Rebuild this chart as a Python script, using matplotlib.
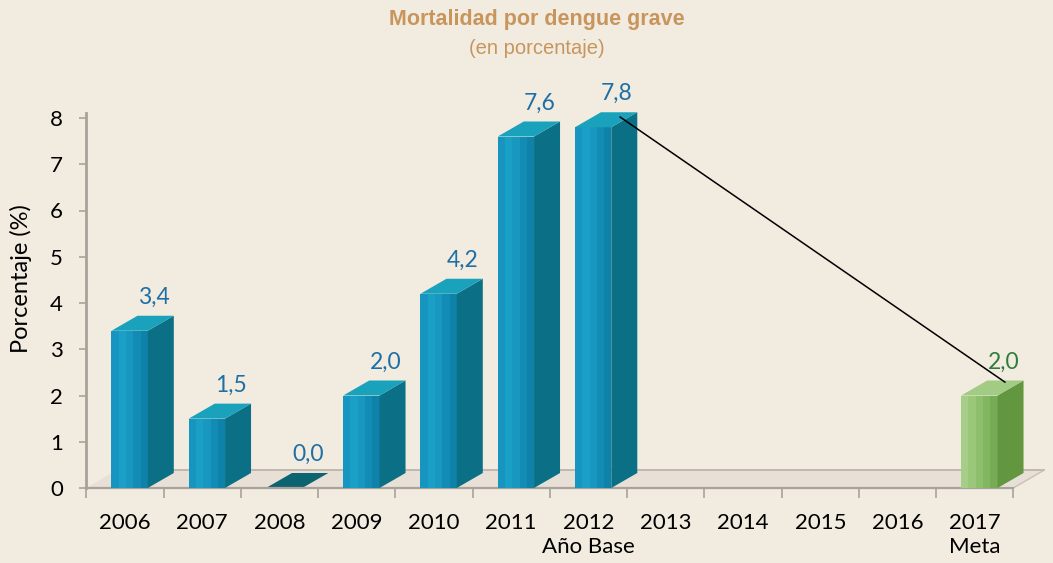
import matplotlib
matplotlib.use("Agg")
import matplotlib.pyplot as plt
from matplotlib.patches import Polygon
import numpy as np

# ---- data ----
years = ["2006", "2007", "2008", "2009", "2010", "2011", "2012",
         "2013", "2014", "2015", "2016", "2017"]
tick_labels = ["2006", "2007", "2008", "2009", "2010", "2011", "2012\nAño Base",
               "2013", "2014", "2015", "2016", "2017\nMeta"]
values = [3.4, 1.5, 0.0, 2.0, 4.2, 7.6, 7.8, None, None, None, None, 2.0]
value_labels = ["3,4", "1,5", "0,0", "2,0", "4,2", "7,6", "7,8", "", "", "", "", "2,0"]
is_goal = [False] * 11 + [True]
yticks = [0, 1, 2, 3, 4, 5, 6, 7, 8]

title = "Mortalidad por dengue grave"
subtitle = "(en porcentaje)"
ylabel = "Porcentaje (%)"

BG = "#F2EBE0"
TITLE_C = "#C8955C"
BLUE_T = "#1D6FA5"
GREEN_T = "#2E7D3A"

W, H = 1053, 563
fig = plt.figure(figsize=(W / 100, H / 100), dpi=100, facecolor=BG)

# axes geometry in pixels
px_per_x = 77.25
px_per_y = 46.25
x_left_px = 125 - 0.5 * px_per_x
xlim = (-0.5, 11.95)
ylim = (0, 8.4)
ax_w = (xlim[1] - xlim[0]) * px_per_x
ax_h = (ylim[1] - ylim[0]) * px_per_y
y0_px = 488
ax = fig.add_axes([x_left_px / W, (H - y0_px) / H, ax_w / W, ax_h / H])
ax.set_facecolor("none")
ax.set_xlim(*xlim)
ax.set_ylim(*ylim)

# 3D offsets
dx = 26 / px_per_x
dy = 15 / px_per_y
fdx = 31 / px_per_x
fdy = 18 / px_per_y
half = 0.235
shift = 0.06

# floor
floor = Polygon([(-0.5, 0), (11.5, 0), (11.5 + fdx, fdy), (-0.5 + fdx, fdy)],
                closed=True, facecolor="#E8E0D6", edgecolor="none", zorder=1)
ax.add_patch(floor)
ax.plot([-0.5 + fdx, 11.5 + fdx], [fdy, fdy], color="#B9B1A8", lw=1.2, zorder=1.5)
ax.plot([11.5, 11.5 + fdx], [0, fdy], color="#C8C0B7", lw=1.0, zorder=1.5)

def draw_bar(i, v, goal):
    xc = i + shift
    x0, x1 = xc - half, xc + half
    if goal:
        cols_front = ["#A6CE88", "#9AC77A", "#8EBF6C", "#82B660", "#77AC57"]
        side_c = "#62973F"
        top_c = "#A2CB84"
    else:
        cols_front = ["#1695C0", "#1A9FC6", "#1898C0", "#128CB4", "#0E82A8"]
        side_c = "#0B6F86"
        top_c = "#1AA2BC"
    if v == 0:
        ax.add_patch(Polygon([(x0, 0), (x1, 0), (x1 + dx, dy), (x0 + dx, dy)],
                             closed=True, facecolor="#0B6470", edgecolor="none", zorder=2))
        return
    n = len(cols_front)
    edges = np.linspace(x0, x1, n + 1)
    for k in range(n):
        ax.add_patch(Polygon([(edges[k], 0), (edges[k + 1] + 0.002, 0),
                              (edges[k + 1] + 0.002, v), (edges[k], v)],
                             closed=True, facecolor=cols_front[k], edgecolor="none", zorder=3))
    ax.add_patch(Polygon([(x1, 0), (x1 + dx, dy), (x1 + dx, v + dy), (x1, v)],
                         closed=True, facecolor=side_c, edgecolor="none", zorder=3))
    ax.add_patch(Polygon([(x0, v), (x1, v), (x1 + dx, v + dy), (x0 + dx, v + dy)],
                         closed=True, facecolor=top_c, edgecolor="none", zorder=3))

for i, v in enumerate(values):
    if v is None:
        continue
    draw_bar(i, v, is_goal[i])
    ax.text(i + 0.37, v + dy + 0.40, value_labels[i], ha="center", va="center",
            fontsize=16.5, family="Lato", color=GREEN_T if is_goal[i] else BLUE_T, zorder=5)

# trend line from 2012 base to 2017 goal
i_base, i_goal = 6, 11
ax.plot([i_base + 0.41, i_goal + 0.39], [values[i_base] + 0.22, values[i_goal] + 0.29],
        color="black", lw=1.1, zorder=6)

# spines & ticks
for s in ["top", "right"]:
    ax.spines[s].set_visible(False)
ax.spines["left"].set_color("#A8A29C")
ax.spines["left"].set_linewidth(2.0)
ax.spines["left"].set_bounds(0, 8.1)
ax.spines["bottom"].set_color("#A8A29C")
ax.spines["bottom"].set_linewidth(1.6)
ax.spines["bottom"].set_bounds(-0.5, 11.5)

ax.set_yticks(yticks)
ax.set_yticklabels([str(t) for t in yticks], family="Lato", fontsize=16)
ax.tick_params(axis="y", length=5, width=1.2, color="#A8A29C", pad=12)

ax.set_xticks(np.arange(-0.5, 12, 1.0))
ax.set_xticklabels([])
ax.tick_params(axis="x", length=7, width=1.2, color="#A8A29C")
for i, lab in enumerate(tick_labels):
    ax.text(i, -0.55, lab, ha="center", va="top", fontsize=16, family="Lato",
            color="black", linespacing=1.2)

ax.set_ylabel(ylabel, family="Lato", fontsize=17)
ax.yaxis.set_label_coords(-0.057, 0.54)

fig.text(537 / W, 1 - 20 / H, title, ha="center", va="center", fontsize=15.5,
         fontweight="bold", family="Liberation Sans", color=TITLE_C)
fig.text(537 / W, 1 - 49 / H, subtitle, ha="center", va="center", fontsize=14.5,
         family="Liberation Sans", color=TITLE_C)

fig.savefig("out.png", dpi=100, facecolor=BG)
